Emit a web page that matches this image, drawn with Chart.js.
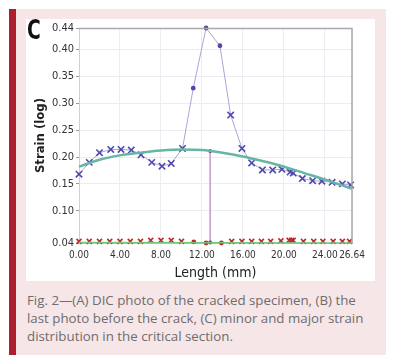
<!DOCTYPE html>
<html>
<head>
<meta charset="utf-8">
<script src="https://cdn.jsdelivr.net/npm/chart.js@4"></script>
<style>
  body { margin: 0; background: #fff; width: 399px; height: 364px; overflow: hidden; }
  .box { position: absolute; left: 9px; top: 9px; width: 370px; height: 346px; background: #f6e6e7; border-left: 7px solid #ad1f2f; }
  .plot { position: absolute; left: 26px; top: 19px; width: 349px; height: 262px; background: #fff; }
  .letter { position: absolute; left: 27px; top: 15px; font: bold 26px "DejaVu Sans Condensed", sans-serif; color: #111; transform: scaleX(0.8); transform-origin: left top; }
  .caption { position: absolute; left: 27px; top: 291px; width: 343px; font: 13.3px "Open Sans", sans-serif; line-height: 18px; color: #6d6d6d; }
  canvas { position: absolute; left: 26px; top: 19px; }
</style>
</head>
<body>
<div class="box"></div>
<div class="plot"></div>
<canvas id="chart" width="349" height="267"></canvas>
<div class="letter">C</div>
<div class="caption">Fig. 2—(A) DIC photo of the cracked specimen, (B) the last photo before the crack, (C) minor and major strain distribution in the critical section.</div>
<script>
// tick labels
const lengthTicks = [0, 4, 8, 12, 16, 20, 24, 26.64];
const strainTicks = [0.04, 0.10, 0.15, 0.20, 0.25, 0.30, 0.35, 0.40, 0.44];

// major strain (x = cross marker, o = small dot)
const majorLength = [0, 1.0, 2.0, 3.1, 4.1, 5.1, 6.05, 7.1, 8.1, 9.0, 10.1, 11.15, 12.4, 13.75, 14.8, 15.9, 16.85, 17.9, 18.9, 19.8, 20.6, 20.9, 21.8, 22.8, 23.7, 24.7, 25.7, 26.5];
const majorStrain = [0.168, 0.190, 0.208, 0.214, 0.214, 0.213, 0.204, 0.190, 0.183, 0.188, 0.216, 0.328, 0.44, 0.407, 0.278, 0.216, 0.189, 0.176, 0.176, 0.177, 0.172, 0.170, 0.160, 0.156, 0.155, 0.153, 0.150, 0.148];
const majorMarker = ['x','x','x','x','x','x','x','x','x','x','x','o','o','o','x','x','x','x','x','x','x','x','x','x','x','x','x','x'];

// major strain trend curve
const majorTrendLength = [0, 2, 4, 6, 8, 10, 12, 14, 16, 18, 20, 22, 24, 26.64];
const majorTrendStrain = [0.182, 0.195, 0.203, 0.208, 0.212, 0.214, 0.213, 0.208, 0.201, 0.192, 0.182, 0.170, 0.158, 0.141];

// minor strain
const minorLength = [0, 1, 2, 3, 4, 5, 6, 7, 8, 9, 10, 11.2, 12.4, 13.9, 14.9, 15.9, 16.85, 17.8, 18.7, 19.7, 20.5, 20.75, 20.9, 21.9, 22.9, 23.8, 24.8, 25.7, 26.4];
const minorStrain = [0.043, 0.043, 0.043, 0.043, 0.043, 0.043, 0.043, 0.045, 0.045, 0.045, 0.043, 0.042, 0.040, 0.040, 0.043, 0.043, 0.043, 0.043, 0.043, 0.044, 0.045, 0.045, 0.045, 0.043, 0.043, 0.043, 0.043, 0.043, 0.043];
const minorMarker = ['x','x','x','x','x','x','x','x','x','x','x','o','o','o','x','x','x','x','x','x','x','x','x','x','x','x','x','x','x'];

// minor strain trend
const minorTrendLength = [0, 26.64];
const minorTrendStrain = [0.041, 0.040];

// critical section marker
const sectionLength = [12.8, 12.8];
const sectionStrain = [0.211, 0.041];

const pts = (xs, ys) => xs.map((x, i) => ({ x: x, y: ys[i] }));
const styleOf = m => m.map(k => k === 'x' ? 'crossRot' : 'circle');
const radiusOf = (m, r) => m.map(k => k === 'x' ? r : 1.6);

const frame = {
  id: 'frame',
  afterDraw(c) {
    const a = c.chartArea, ctx = c.ctx;
    ctx.save();
    ctx.strokeStyle = '#a9a9a9';
    ctx.lineWidth = 1.5;
    ctx.beginPath();
    ctx.moveTo(a.left, a.top + 0.5);
    ctx.lineTo(a.right, a.top + 0.5);
    ctx.lineTo(a.right, a.bottom);
    ctx.stroke();
    ctx.restore();
  }
};

const narrow = '"DejaVu Sans Condensed", "Liberation Sans Narrow", sans-serif';

new Chart(document.getElementById('chart'), {
  type: 'scatter',
  data: {
    datasets: [
      {
        data: pts(majorTrendLength, majorTrendStrain),
        showLine: true, borderColor: '#68b5a6', borderWidth: 2.5, pointRadius: 0,
        tension: 0.4, cubicInterpolationMode: 'monotone'
      },
      {
        data: pts(minorTrendLength, minorTrendStrain),
        showLine: true, borderColor: '#74c47a', borderWidth: 1.5, pointRadius: 0
      },
      {
        data: pts(sectionLength, sectionStrain),
        showLine: true, borderColor: '#c9a3d4', borderWidth: 1,
        pointRadius: 1.6, pointBackgroundColor: '#8a3e9a', pointBorderColor: '#8a3e9a'
      },
      {
        data: pts(majorLength, majorStrain),
        showLine: true, borderColor: '#aaa3dc', borderWidth: 1,
        pointStyle: styleOf(majorMarker), pointRadius: radiusOf(majorMarker, 4.5),
        pointBorderWidth: 1.6, pointBorderColor: '#5148ad', pointBackgroundColor: '#5148ad'
      },
      {
        data: pts(minorLength, minorStrain),
        showLine: false,
        pointStyle: styleOf(minorMarker), pointRadius: radiusOf(minorMarker, 3.5),
        pointBorderWidth: 1.6, pointBorderColor: '#c4262f', pointBackgroundColor: '#c4262f'
      }
    ]
  },
  options: {
    responsive: false,
    animation: false,
    clip: false,
    layout: { padding: { top: 9, right: 23, left: 7, bottom: 0 } },
    plugins: { legend: { display: false }, tooltip: { enabled: false } },
    scales: {
      x: {
        type: 'linear', min: 0, max: 26.64,
        afterBuildTicks: s => { s.ticks = lengthTicks.map(v => ({ value: v })); },
        afterFit: s => { s.height = 43; },
        ticks: { autoSkip: false, maxRotation: 0, padding: 6, color: '#333', font: { family: narrow, size: 10 }, callback: v => v.toFixed(2) },
        grid: { color: '#ececf2', drawTicks: false },
        border: { color: '#c8c8c8' },
        title: { display: true, text: 'Length (mm)', color: '#222', padding: { top: 6 },
          font: { family: narrow, size: 14 } }
      },
      y: {
        type: 'linear', min: 0.04, max: 0.44,
        afterBuildTicks: s => { s.ticks = strainTicks.map(v => ({ value: v })); },
        afterFit: s => { s.width = 46; },
        ticks: { autoSkip: false, padding: 2, color: '#333', font: { family: narrow, size: 11 }, callback: v => v.toFixed(2) },
        grid: { color: '#ececf2', tickLength: 3, tickColor: '#999' },
        border: { color: '#d0d0d0' },
        title: { display: true, text: 'Strain (log)', color: '#222', padding: { top: 0, bottom: 0 },
          font: { family: narrow, size: 13, weight: 'bold' } }
      }
    }
  },
  plugins: [frame]
});
</script>
</body>
</html>
